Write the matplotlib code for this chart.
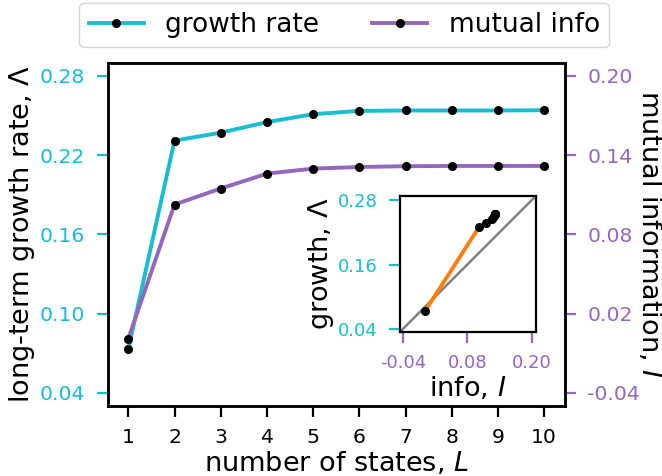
import numpy as np
import matplotlib
matplotlib.use('Agg')
import matplotlib.pyplot as plt

# data
states = [1, 2, 3, 4, 5, 6, 7, 8, 9, 10]
growth = [0.073, 0.231, 0.237, 0.245, 0.251, 0.2535, 0.2538, 0.2538, 0.2538, 0.254]
info = [0.001, 0.1026, 0.1147, 0.126, 0.1298, 0.131, 0.1316, 0.1318, 0.1318, 0.1318]

cyan = '#17becf'
purple = '#9467bd'

plt.rcParams['axes.unicode_minus'] = False

fig = plt.figure(figsize=(6.62, 4.76), dpi=100)
ax = fig.add_axes([0.1624, 0.147, 0.691, 0.7213])
ax2 = ax.twinx()

l1, = ax.plot(states, growth, '-o', color=cyan, lw=2.8, ms=5.5, mfc='k', mec='k', label='growth rate')
l2, = ax2.plot(states, info, '-o', color=purple, lw=2.8, ms=5.5, mfc='k', mec='k', label='mutual info')

ax.set_ylim(0.03, 0.29)
ax2.set_ylim(-0.05, 0.21)
ax.set_xticks(states)
ax.set_yticks([0.04, 0.10, 0.16, 0.22, 0.28])
ax2.set_yticks([-0.04, 0.02, 0.08, 0.14, 0.20])
ax.tick_params(axis='y', colors=cyan, labelsize=14.7, length=8, width=1.6, pad=8)
ax.tick_params(axis='x', labelsize=14.7, length=8, width=1.6, pad=8)
ax2.tick_params(axis='y', colors=purple, labelsize=14.7, length=8, width=1.6, pad=8)
for a in (ax, ax2):
    for s in a.spines.values():
        s.set_linewidth(1.8)
    for t in a.get_yticklines():
        t.set_color('k')

ax.set_xlabel('number of states, $L$', fontsize=19.5, labelpad=2)
ax.set_ylabel('long-term growth rate, $\\Lambda$', fontsize=19.5, labelpad=2)
ax2.set_ylabel('mutual information, $I$', fontsize=19.5, rotation=270, va='bottom', labelpad=-3)

fig.legend(handles=[l1, l2], loc='upper center', bbox_to_anchor=(0.52, 1.0), ncol=2,
           fontsize=19, handlelength=2.1, columnspacing=2.0, borderaxespad=0.1, borderpad=0.35)

# inset
ins = fig.add_axes([0.604, 0.3025, 0.2054, 0.2857])
ins.plot([-0.046, 0.208], [0.034, 0.288], color='gray', lw=1.8, zorder=1)
ins.plot(info, growth, color='tab:orange', lw=2.8, zorder=2)
ins.plot(info, growth, 'o', color='k', ms=5.5, zorder=3)
ins.set_xlim(-0.046, 0.208)
ins.set_ylim(0.034, 0.288)
ins.set_xticks([-0.04, 0.08, 0.20])
ins.set_yticks([0.04, 0.16, 0.28])
ins.tick_params(axis='x', colors=purple, labelsize=13, length=8, width=1.6, pad=8)
ins.tick_params(axis='y', colors=cyan, labelsize=13, length=8, width=1.6, pad=8)
for t in ins.get_xticklines() + ins.get_yticklines():
    t.set_color('k')
for s in ins.spines.values():
    s.set_linewidth(1.6)
ins.set_xlabel('info, $I$', fontsize=19.5, labelpad=2)
ins.set_ylabel('growth, $\\Lambda$', fontsize=19.5, labelpad=1)

fig.savefig('out.png', dpi=100)
